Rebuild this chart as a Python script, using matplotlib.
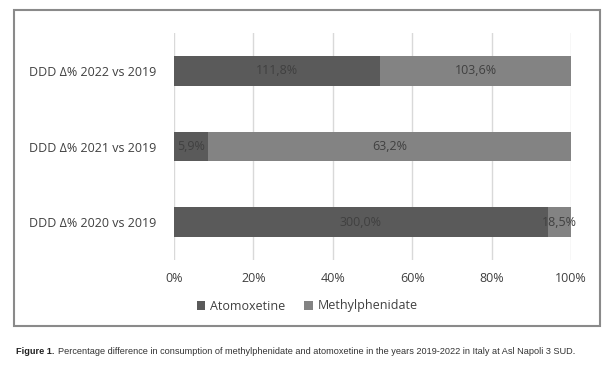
import matplotlib
matplotlib.use("Agg")
import matplotlib.pyplot as plt
from matplotlib.patches import Rectangle
import numpy as np

categories = ["DDD Δ% 2020 vs 2019", "DDD Δ% 2021 vs 2019", "DDD Δ% 2022 vs 2019"]
atomoxetine = [300.0, 5.9, 111.8]
methylphenidate = [18.5, 63.2, 103.6]
series_names = ["Atomoxetine", "Methylphenidate"]
xticks = [0, 20, 40, 60, 80, 100]
xtick_labels = ["0%", "20%", "40%", "60%", "80%", "100%"]

c_dark = "#5a5a5a"
c_light = "#838383"
txt = "#404040"
font = "Open Sans"
fs = 9

fig = plt.figure(figsize=(6.15, 3.68), dpi=100)
ax = fig.add_axes([174/615, 1-260/368, (571-174)/615, (260-33)/368])

a = np.array(atomoxetine)
m = np.array(methylphenidate)
tot = a + m
pa = a / tot * 100
pm = m / tot * 100
y = np.arange(len(categories))
h = 0.39
b1 = ax.barh(y, pa, height=h, color=c_dark, label=series_names[0], zorder=3)
b2 = ax.barh(y, pm, left=pa, height=h, color=c_light, label=series_names[1], zorder=3)

def fmt(v):
    return f"{v:.1f}".replace(".", ",") + "%"

for i in range(len(categories)):
    ax.text(pa[i]/2, y[i], fmt(a[i]), ha="center", va="center", color=txt,
            fontsize=fs, family=font, zorder=4)
    ax.text(pa[i] + pm[i]/2, y[i], fmt(m[i]), ha="center", va="center", color=txt,
            fontsize=fs, family=font, zorder=4)

ax.set_xlim(0, 100)
ax.set_ylim(-0.5, 2.5)
ax.set_xticks(xticks)
ax.set_xticklabels(xtick_labels, family=font, fontsize=fs, color=txt)
ax.set_yticks(y)
ax.set_yticklabels(categories, family=font, fontsize=fs, color=txt)
ax.tick_params(axis="x", length=0, pad=9)
ax.tick_params(axis="y", length=0, pad=13)
ax.grid(axis="x", color="#d9d9d9", lw=1, zorder=0)
for s in ax.spines.values():
    s.set_visible(False)

fig.legend(handles=[b1, b2], labels=series_names, loc="center", bbox_to_anchor=(0.5, 1-306/368),
           ncol=2, frameon=False, prop={"family": font, "size": fs}, handlelength=0.7,
           handleheight=0.7, columnspacing=1.5, handletextpad=0.4, labelcolor=txt)

fig.patches.append(Rectangle((14/615, 1-326/368), 586/615, 316/368, transform=fig.transFigure,
                             fill=False, edgecolor="#8a8a8a", lw=1.5))

t1 = fig.text(16/615, 1-352/368, "Figure 1.", fontsize=6.6, fontweight="bold", family="Liberation Sans",
              va="center", ha="left", color="#222222")
r = fig.canvas.get_renderer()
bb = t1.get_window_extent(renderer=r)
x2 = (bb.x1 + 3) / fig.bbox.width
fig.text(x2, 1-352/368,
         "Percentage difference in consumption of methylphenidate and atomoxetine in the years 2019-2022 in Italy at Asl Napoli 3 SUD.",
         fontsize=6.6, family="Liberation Sans", va="center", ha="left", color="#333333")

fig.savefig("out.png", dpi=100)
